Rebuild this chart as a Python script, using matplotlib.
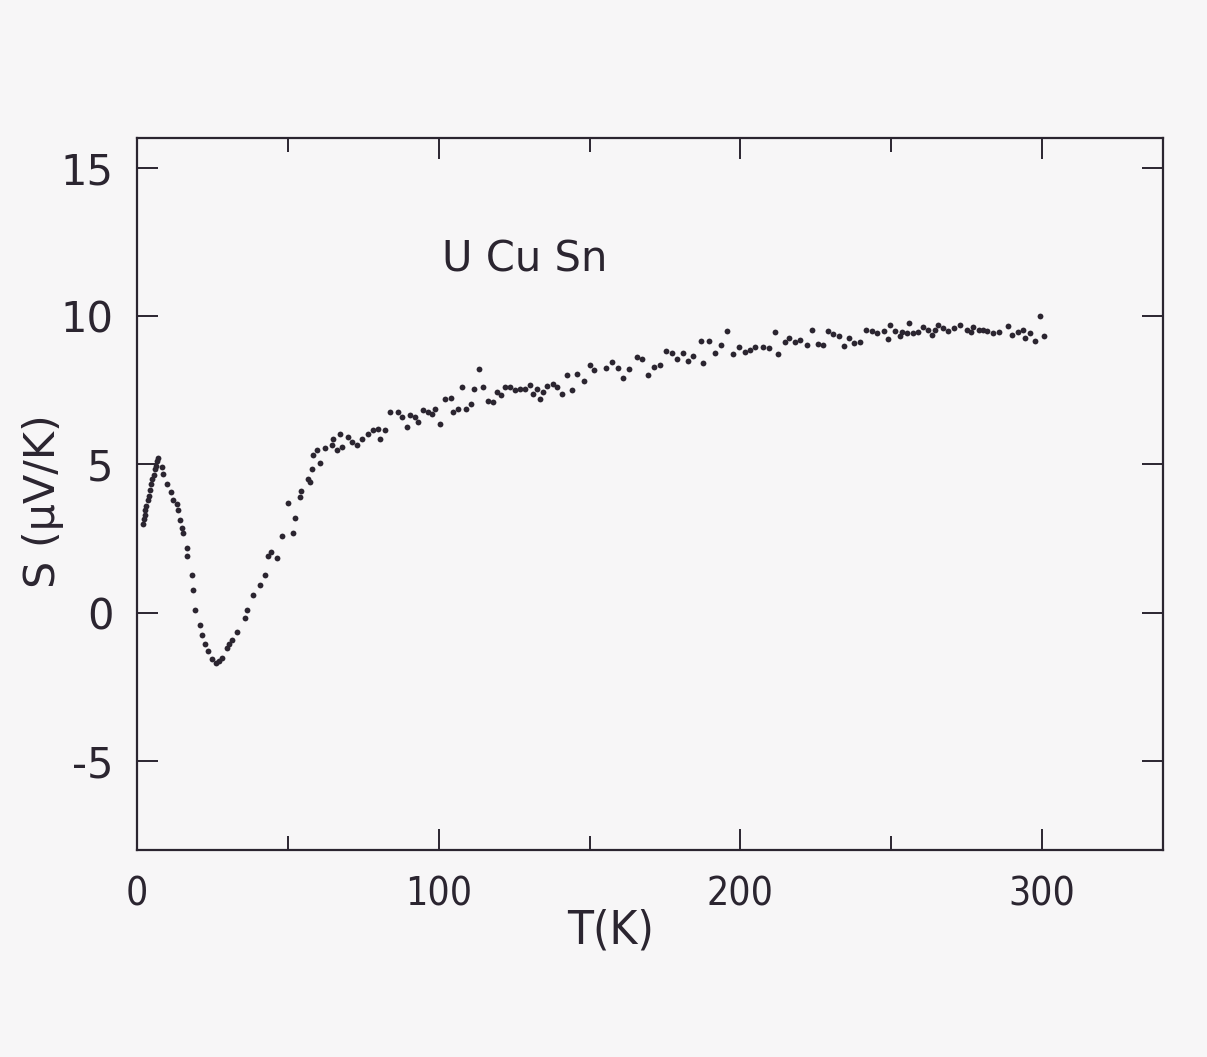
import matplotlib
matplotlib.use("Agg")
import matplotlib.pyplot as plt
from matplotlib.ticker import FixedLocator

plt.rcParams["axes.unicode_minus"] = False

# Data (T in K, S in µV/K)
T = [1.9, 2.2, 2.5, 2.8, 3.1, 3.5, 3.9, 4.3, 4.7, 5.1, 5.5, 5.9, 6.3, 6.7, 7.1,
     8.2, 8.7, 10.0, 11.2, 11.8, 13.2, 13.7, 14.3, 14.8, 15.3, 16.5, 16.6, 18.1, 18.7,
     19.2, 20.9, 21.4, 22.5, 23.5, 24.8, 26.2, 27.2, 28.1, 29.7, 30.5, 31.4, 33.0,
     35.8, 36.4, 38.6, 40.8, 42.4, 43.5, 44.5, 46.3, 48.0, 50.2, 51.8, 52.4, 54.0,
     54.5, 56.8, 57.3, 57.9, 58.4, 59.5, 60.7, 62.3, 64.5, 65.0, 66.2, 67.3, 67.8,
     70.0, 71.2, 72.8, 74.5, 76.7, 78.3, 80.0, 80.5, 82.2, 83.9, 86.6, 87.7, 89.4,
     90.5, 92.1, 93.2, 94.9, 96.6, 97.7, 98.8, 100.4, 102.1, 104.0, 104.8, 106.5,
     107.6, 109.0, 110.6, 111.8, 113.5, 114.8, 116.4, 118.1, 119.4, 120.5, 122.0,
     123.6, 125.3, 126.9, 128.6, 130.3, 131.4, 132.5, 133.6, 134.7, 135.8, 138.0,
     139.1, 140.8, 142.4, 144.1, 145.7, 148.3, 150.2, 151.6, 155.5, 157.3, 159.3,
     161.0, 163.2, 165.6, 167.3, 169.5, 171.4, 173.4, 175.2, 177.2, 179.1, 180.9,
     182.7, 184.4, 186.8, 187.7, 189.7, 191.6, 193.5, 195.5, 197.6, 199.6, 201.5,
     203.2, 204.8, 207.6, 209.6, 211.5, 212.3, 214.8, 216.2, 218.1, 219.8, 222.0,
     223.6, 225.6, 227.5, 228.9, 230.8, 232.5, 234.3, 235.8, 237.7, 239.6, 241.6,
     243.5, 245.2, 247.4, 249.0, 249.6, 251.2, 252.9, 253.4, 255.1, 256.0, 257.3,
     258.8, 260.6, 262.0, 263.4, 264.5, 265.3, 267.1, 268.7, 270.6, 272.8, 275.2,
     276.3, 277.2, 278.9, 280.3, 281.8, 283.6, 285.8, 288.5, 290.1, 292.1, 293.6,
     294.3, 295.8, 297.6, 299.3, 300.6]
S = [3.0, 3.15, 3.3, 3.45, 3.6, 3.8, 3.95, 4.15, 4.35, 4.5, 4.65, 4.85, 4.95, 5.1, 5.2,
     4.92, 4.69, 4.35, 4.07, 3.79, 3.68, 3.46, 3.12, 2.84, 2.67, 2.17, 1.9, 1.27, 0.76,
     0.09, -0.41, -0.75, -1.04, -1.3, -1.55, -1.7, -1.62, -1.54, -1.2, -1.05, -0.92, -0.64,
     -0.19, 0.09, 0.6, 0.93, 1.27, 1.9, 2.05, 1.83, 2.6, 3.7, 2.7, 3.2, 3.9,
     4.1, 4.5, 4.4, 4.86, 5.3, 5.5, 5.05, 5.55, 5.65, 5.87, 5.5, 6.04, 5.6,
     5.93, 5.76, 5.65, 5.87, 6.04, 6.16, 6.2, 5.87, 6.16, 6.77, 6.77, 6.6, 6.26,
     6.65, 6.6, 6.43, 6.82, 6.77, 6.71, 6.88, 6.37, 7.22, 7.24, 6.77, 6.88,
     7.61, 6.87, 7.05, 7.55, 8.2, 7.61, 7.14, 7.1, 7.44, 7.33, 7.61,
     7.61, 7.52, 7.53, 7.55, 7.69, 7.38, 7.55, 7.22, 7.44, 7.64, 7.7,
     7.61, 7.36, 8.01, 7.51, 8.06, 7.81, 8.34, 8.19, 8.25, 8.45, 8.25,
     7.91, 8.2, 8.62, 8.54, 8.02, 8.28, 8.34, 8.82, 8.75, 8.56, 8.76,
     8.47, 8.65, 9.15, 8.42, 9.15, 8.75, 9.01, 9.49, 8.71, 8.96, 8.79,
     8.85, 8.96, 8.96, 8.92, 9.46, 8.71, 9.12, 9.26, 9.12, 9.18, 9.01,
     9.54, 9.07, 9.01, 9.49, 9.41, 9.33, 8.99, 9.26, 9.10, 9.12, 9.54,
     9.49, 9.43, 9.48, 9.24, 9.69, 9.48, 9.33, 9.46, 9.44, 9.77, 9.44,
     9.46, 9.63, 9.54, 9.35, 9.54, 9.71, 9.61, 9.49, 9.61, 9.69, 9.52,
     9.46, 9.63, 9.52, 9.52, 9.48, 9.43, 9.46, 9.65, 9.37, 9.46, 9.52,
     9.26, 9.44, 9.16, 10.0, 9.33]

x_major = [0, 100, 200, 300]
x_minor = [50, 150, 250]
y_major = [-5, 0, 5, 10, 15]
sample_label = "U Cu Sn"

ink = "#2b2530"
bg = "#f7f6f7"

fig = plt.figure(figsize=(12.07, 10.57), dpi=100, facecolor=bg)
ax = fig.add_axes([0.1135, 0.1958, 0.85, 0.6736])
ax.set_facecolor(bg)

ax.plot(T, S, linestyle="none", marker="o", markersize=4.2,
        color=ink, markeredgewidth=0)

ax.set_xlim(0, 340)
ax.set_ylim(-8, 16)

ax.xaxis.set_major_locator(FixedLocator(x_major))
ax.xaxis.set_minor_locator(FixedLocator(x_minor))
ax.yaxis.set_major_locator(FixedLocator(y_major))
ax.yaxis.set_minor_locator(FixedLocator([]))

ax.tick_params(axis="both", which="both", direction="in", top=True, right=True,
               color=ink, width=1.4)
ax.tick_params(axis="both", which="major", length=15)
ax.tick_params(axis="x", which="minor", length=10)
ax.tick_params(axis="y", which="major", labelsize=30, pad=17, labelcolor=ink)
ax.tick_params(axis="x", which="major", labelsize=28, pad=18, labelcolor=ink)

for lab in ax.get_xticklabels():
    lab.set_fontstretch("condensed")

for sp in ax.spines.values():
    sp.set_color(ink)
    sp.set_linewidth(1.6)

ax.set_xlabel("T(K)", fontsize=34, color=ink, fontstretch="condensed")
ax.xaxis.set_label_coords(0.462, -0.082)
ax.set_ylabel("S (\u03bcV/K)", fontsize=31, color=ink, va="center")
ax.yaxis.set_label_coords(-0.092, 0.49)

ax.text(101, 11.9, sample_label, fontsize=30, color=ink, ha="left", va="center")

fig.savefig("out.png", dpi=100, facecolor=bg)
